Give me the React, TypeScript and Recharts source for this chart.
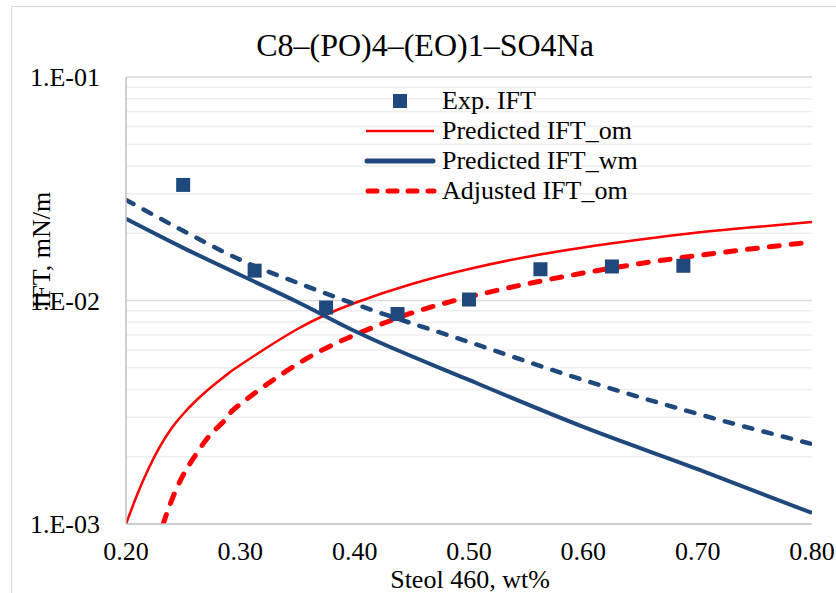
import { ComposedChart, Line, Scatter, XAxis, YAxis, ReferenceLine } from "recharts";

// experimental points
const expX = [0.25, 0.3125, 0.375, 0.4375, 0.5, 0.5625, 0.625, 0.6875];
const expIFT = [0.0329, 0.0136, 0.0093, 0.0087, 0.0101, 0.0138, 0.0142, 0.0143];

// water-rich side model curves
const wmX = [0.2, 0.25, 0.3, 0.35, 0.4, 0.5, 0.6, 0.7, 0.8];
const predictedWm = [0.0232, 0.0172, 0.013, 0.00985, 0.0073, 0.00441, 0.00272, 0.00176, 0.00112];
const adjustedWm = [0.0282, 0.0205, 0.0152, 0.012, 0.00965, 0.00652, 0.00441, 0.00311, 0.00228];

// oil-rich side model curves
const predOmX = [0.2, 0.21, 0.22, 0.23, 0.24, 0.25, 0.26, 0.27, 0.28, 0.29, 0.3, 0.35, 0.4, 0.45, 0.5, 0.55, 0.6, 0.65, 0.7, 0.75, 0.8];
const predictedOm = [
  0.001, 0.001362, 0.00178, 0.002234, 0.002689, 0.003106, 0.003515, 0.003916, 0.004319, 0.004737, 0.005144,
  0.007457, 0.009746, 0.01185, 0.01383, 0.01565, 0.01726, 0.01874, 0.02014, 0.02132, 0.02244,
];
const adjOmX = [0.2325, 0.24, 0.25, 0.26, 0.27, 0.28, 0.29, 0.3, 0.35, 0.4, 0.45, 0.5, 0.55, 0.6, 0.65, 0.7, 0.75, 0.8];
const adjustedOm = [
  0.001, 0.00128, 0.001656, 0.002004, 0.002376, 0.002703, 0.003059, 0.003443, 0.005198, 0.007008, 0.008793,
  0.01037, 0.01185, 0.01327, 0.01464, 0.0159, 0.01709, 0.01827,
];

const xTicks = [0.2, 0.3, 0.4, 0.5, 0.6, 0.7, 0.8];
const yTicks = [0.001, 0.01, 0.1];
const minorGrid = [0.002, 0.003, 0.004, 0.005, 0.006, 0.007, 0.008, 0.009, 0.02, 0.03, 0.04, 0.05, 0.06, 0.07, 0.08, 0.09];

const toPoints = (xs: number[], ys: number[]) => xs.map((x, i) => ({ x, y: ys[i] }));

const BLUE = "#1f497d";
const RED = "#ff0000";
const FONT = '"Liberation Serif", "Times New Roman", serif';

const fmtLog = (v: number) => `1.E-${String(Math.round(-Math.log10(v))).padStart(2, "0")}`;

const Square = (props: any) => {
  const { cx, cy } = props;
  if (cx == null || cy == null) return null;
  return <rect x={cx - 7} y={cy - 7} width={14} height={14} fill={BLUE} />;
};

const legendRows = [
  { name: "Exp. IFT", kind: "square" },
  { name: "Predicted IFT_om", kind: "redSolid" },
  { name: "Predicted IFT_wm", kind: "blueSolid" },
  { name: "Adjusted IFT_om", kind: "redDash" },
];

function LegendSample({ kind }: { kind: string }) {
  return (
    <svg width={84} height={30}>
      {kind === "square" && <rect x={38} y={8} width={14} height={14} fill={BLUE} />}
      {kind === "redSolid" && <line x1={11} x2={79} y1={15} y2={15} stroke={RED} strokeWidth={2.5} />}
      {kind === "blueSolid" && <line x1={12} x2={78} y1={15} y2={15} stroke={BLUE} strokeWidth={5} strokeLinecap="round" />}
      {kind === "redDash" && (
        <line x1={13} x2={79} y1={15} y2={15} stroke={RED} strokeWidth={5} strokeDasharray="9 11" strokeLinecap="round" />
      )}
    </svg>
  );
}

export default function App() {
  return (
    <div
      style={{
        position: "absolute",
        left: 0,
        top: 0,
        width: 836,
        height: 593,
        overflow: "hidden",
        background: "#fff",
        fontFamily: FONT,
        color: "#000",
      }}
    >
      <div style={{ position: "absolute", left: 11, top: 6, width: 900, height: 700, border: "1px solid #d9d9d9" }} />

      <ComposedChart width={836} height={593} margin={{ top: 77, right: 24, left: 0, bottom: 0 }} style={{ position: "absolute", left: 0, top: 0 }}>
        {minorGrid.map((v) => (
          <ReferenceLine key={v} y={v} stroke="#eeeeee" strokeWidth={1.5} ifOverflow="hidden" />
        ))}
        <ReferenceLine y={0.01} stroke="#d9d9d9" strokeWidth={1.5} />
        <ReferenceLine y={0.1} stroke="#d9d9d9" strokeWidth={1.5} />
        <XAxis
          type="number"
          dataKey="x"
          domain={[0.2, 0.8]}
          ticks={xTicks}
          allowDataOverflow
          height={69}
          tickSize={0}
          tickMargin={18}
          tickFormatter={(v: number) => v.toFixed(2)}
          tick={{ fill: "#000", fontSize: 26, fontFamily: FONT }}
          axisLine={{ stroke: "#bfbfbf", strokeWidth: 1.5 }}
        />
        <YAxis
          type="number"
          dataKey="y"
          scale="log"
          domain={[0.001, 0.1]}
          ticks={yTicks}
          allowDataOverflow
          width={126}
          tickSize={0}
          tickMargin={26}
          tickFormatter={fmtLog}
          tick={{ fill: "#000", fontSize: 26, fontFamily: FONT }}
          axisLine={{ stroke: "#bfbfbf", strokeWidth: 1.5 }}
        />
        <Line
          data={toPoints(predOmX, predictedOm)}
          dataKey="y"
          type="natural"
          stroke={RED}
          strokeWidth={2.5}
          dot={false}
          isAnimationActive={false}
        />
        <Line
          data={toPoints(adjOmX, adjustedOm)}
          dataKey="y"
          type="natural"
          stroke={RED}
          strokeWidth={5}
          strokeDasharray="10 12"
          strokeLinecap="round"
          dot={false}
          isAnimationActive={false}
        />
        <Line
          data={toPoints(wmX, predictedWm)}
          dataKey="y"
          type="monotone"
          stroke={BLUE}
          strokeWidth={4}
          dot={false}
          isAnimationActive={false}
        />
        <Line
          data={toPoints(wmX, adjustedWm)}
          dataKey="y"
          type="monotone"
          stroke={BLUE}
          strokeWidth={4.5}
          strokeDasharray="8.5 11.5"
          strokeLinecap="round"
          dot={false}
          isAnimationActive={false}
        />
        <Scatter data={toPoints(expX, expIFT)} dataKey="y" fill={BLUE} shape={<Square />} isAnimationActive={false} />
      </ComposedChart>

      <div style={{ position: "absolute", left: 0, top: 26, width: 850, textAlign: "center", fontSize: 32, lineHeight: "38px" }}>
        C8–(PO)4–(EO)1–SO4Na
      </div>

      <div style={{ position: "absolute", left: 355, top: 86 }}>
        {legendRows.map((r) => (
          <div key={r.name} style={{ display: "flex", alignItems: "center", height: 30 }}>
            <LegendSample kind={r.kind} />
            <span style={{ marginLeft: 3, fontSize: 26, lineHeight: "30px", whiteSpace: "nowrap" }}>{r.name}</span>
          </div>
        ))}
      </div>

      <div style={{ position: "absolute", left: 270, top: 567, width: 400, textAlign: "center", fontSize: 26, lineHeight: "26px" }}>
        Steol 460, wt%
      </div>

      <div
        style={{
          position: "absolute",
          left: -58,
          top: 235,
          width: 200,
          height: 30,
          lineHeight: "30px",
          textAlign: "center",
          fontSize: 26,
          transform: "rotate(-90deg)",
        }}
      >
        IFT, mN/m
      </div>
    </div>
  );
}
